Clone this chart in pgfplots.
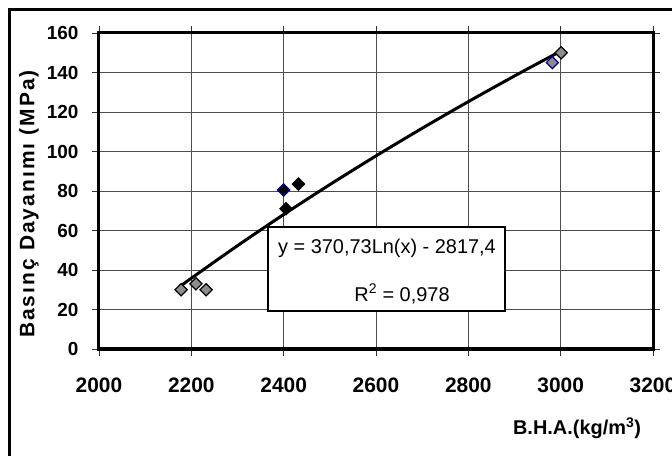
\documentclass[border=0pt]{standalone}
\usepackage{fontspec}
\setmainfont{Liberation Sans}
\newfontfamily\spaced[LetterSpace=10]{Liberation Sans}
\usepackage{pgfplots}
\pgfplotsset{compat=1.18}
\definecolor{mgray}{RGB}{140,140,140}
\definecolor{navy}{RGB}{0,0,140}
\begin{document}
\begin{tikzpicture}
\path[use as bounding box] (-99bp,-107bp) rectangle (573bp,349bp);
\draw[line width=3bp] (-89bp,-110bp) -- (-89bp,339bp) -- (580bp,339bp);
\begin{axis}[
  at={(0,0)}, anchor=south west,
  scale only axis, width=554bp, height=316bp,
  xmin=2000, xmax=3200, ymin=0, ymax=160,
  xtick={2000,2200,...,3200}, ytick={0,20,...,160},
  axis line style={line width=3bp},
  tick align=outside, major tick length=7bp,
  tick style={line width=0.8bp, black!80},
  grid=major, major grid style={line width=0.8bp, black!70},
  /pgf/number format/assume math mode=true,
  /pgf/number format/1000 sep={},
  xticklabel style={font=\fontsize{21}{21}\selectfont\bfseries, yshift=-18bp},
  yticklabel style={font=\fontsize{19}{19}\selectfont\bfseries, xshift=-10bp},
  clip=false,
]
\addplot[line width=3bp, black, smooth] coordinates {
(2180,32.44) (2200,35.83) (2300,52.31) (2400,68.09) (2500,83.23)
(2600,97.77) (2700,111.76) (2800,125.24) (2900,138.25) (2980,148.3) (2990,149.5)
};
\addplot[only marks, mark=square*, mark size=4.3bp,
  mark options={rotate=45, fill=mgray, draw=black, line width=1.2bp}]
  coordinates {(2178,30) (2210,33) (2232,30) (3001,150)};
\addplot[only marks, mark=square*, mark size=4.3bp,
  mark options={rotate=45, fill=black, draw=black, line width=1.2bp}]
  coordinates {(2432,83.5) (2405,71)};
\addplot[only marks, mark=square*, mark size=4.3bp,
  mark options={rotate=45, fill=black, draw=navy, line width=1.2bp}]
  coordinates {(2400,80.5)};
\addplot[only marks, mark=square*, mark size=4.3bp,
  mark options={rotate=45, fill=mgray, draw=navy, line width=1.2bp}]
  coordinates {(2982,145)};
\end{axis}
\node[rotate=90, font=\fontsize{21}{21}\selectfont\bfseries\spaced] at (-70bp,145bp) {Basınç Dayanımı (MPa)};
\node[font=\fontsize{20}{20}\selectfont\bfseries] at (478bp,-79bp) {B.H.A.(kg/m\textsuperscript{3})};
\draw[line width=1.5bp, fill=white] (169bp,38bp) rectangle (406bp,122bp);
\node[font=\fontsize{20}{20}\selectfont] at (288bp,101bp) {y = 370,73Ln(x) - 2817,4};
\node[font=\fontsize{20}{20}\selectfont] at (303bp,55bp) {R\textsuperscript{2} = 0,978};
\end{tikzpicture}
\end{document}
